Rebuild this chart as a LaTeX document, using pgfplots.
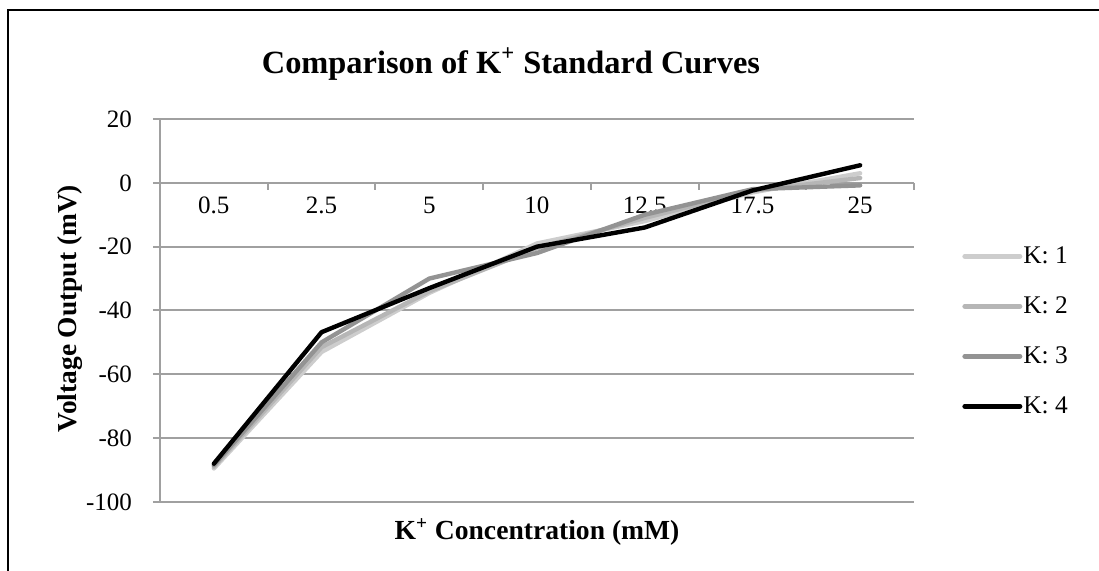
\documentclass[border=0pt]{standalone}
\usepackage{pgfplots}
\pgfplotsset{compat=1.18}
\usepackage{fontspec}
\setmainfont{Liberation Serif}
\definecolor{kone}{HTML}{CDCDCD}
\definecolor{ktwo}{HTML}{B6B6B6}
\definecolor{kthree}{HTML}{939393}
\definecolor{kfour}{HTML}{000000}
\definecolor{gridc}{HTML}{A0A0A0}
\begin{document}
\begin{tikzpicture}
\useasboundingbox (0,0) rectangle (549.5pt,285.5pt);
\draw[line width=1pt] (4pt,0) -- (4pt,280.5pt) -- (549.5pt,280.5pt);
\begin{axis}[
  at={(80pt,34.5pt)}, anchor=south west,
  scale only axis, width=377pt, height=191.5pt,
  xmin=-0.5, xmax=6.5, ymin=-100, ymax=20,
  axis y line=left, axis x line=middle,
  axis line style={draw=gridc, line width=1pt, -},
  hide obscured x ticks=false,
  xtick={0,...,6}, xticklabels={0.5,2.5,5,10,12.5,17.5,25},
  minor xtick={-0.5,0.5,...,6.5},
  major x tick style={draw=none},
  minor x tick style={draw=gridc, line width=1pt},
  ytick={-100,-80,...,20}, yticklabels={-100,-80,-60,-40,-20,0,20},
  major y tick style={draw=gridc, line width=1pt},
  tick align=outside,
  major tick length=3.5pt, minor tick length=3.5pt,
  ymajorgrids, grid style={draw=gridc, line width=1pt},
  tick label style={font=\fontsize{12.5}{14}\selectfont},
  yticklabel style={xshift=-7pt},
  title={Comparison of K\textsuperscript{+} Standard Curves},
  title style={font=\bfseries\fontsize{16.2}{19}\selectfont, at={(axis description cs:0.4655,1.112)}, anchor=center},
  xlabel={K\textsuperscript{+} Concentration (mM)},
  xlabel style={font=\bfseries\fontsize{13.8}{16}\selectfont, at={(axis description cs:0.5,-0.078)}, anchor=center},
  ylabel={Voltage Output (mV)},
  ylabel style={font=\bfseries\fontsize{13.7}{16}\selectfont, at={(axis description cs:-0.119,0.505)}, anchor=center, rotate=0},
  legend style={at={(axis description cs:1.0557,0.679)}, anchor=north west, draw=none, fill=none,
    font=\fontsize{12.7}{14}\selectfont, row sep=15pt, column sep=0.5pt,
    nodes={inner sep=0pt, text height=8.5pt, text depth=1.5pt}},
  legend cell align=left,
  legend image code/.code={\draw[#1, line width=2.5pt, line cap=round] (0pt,0pt) -- (27.5pt,0pt);},
  every axis plot/.append style={line width=2.2pt, line join=round, line cap=round},
]
\addplot[kone] coordinates {(0,-89.5) (1,-53) (2,-34.5) (3,-19) (4,-12) (5,-3) (6,3)};
\addlegendentry{K: 1}
\addplot[ktwo] coordinates {(0,-89) (1,-51.5) (2,-34) (3,-20.5) (4,-11) (5,-2.5) (6,1.5)};
\addlegendentry{K: 2}
\addplot[kthree] coordinates {(0,-88.5) (1,-50) (2,-30) (3,-22) (4,-10) (5,-2) (6,-0.8)};
\addlegendentry{K: 3}
\addplot[kfour] coordinates {(0,-88) (1,-46.8) (2,-33) (3,-20) (4,-14) (5,-2.4) (6,5.5)};
\addlegendentry{K: 4}
\end{axis}
\end{tikzpicture}
\end{document}
